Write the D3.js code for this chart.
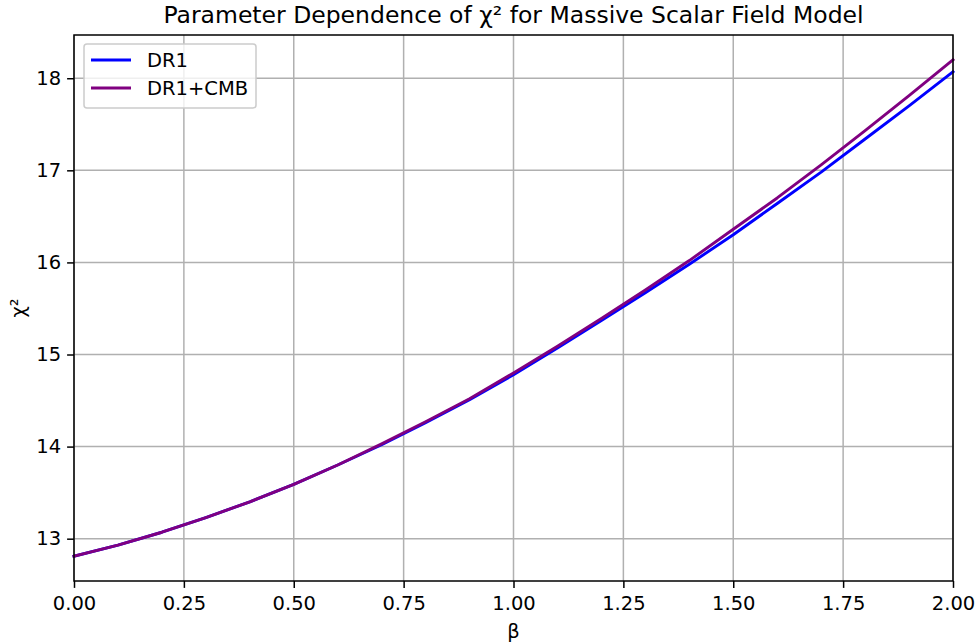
<!DOCTYPE html>
<html>
<head>
<meta charset="utf-8">
<script src="https://cdn.jsdelivr.net/npm/d3@7"></script>
<style>
  html, body { margin: 0; padding: 0; background: #fff; }
  svg { display: block; font-family: "DejaVu Sans", sans-serif; }
</style>
</head>
<body>
<svg id="chart" width="977" height="643"></svg>
<script>
// β grid and χ² values for the two data combinations
const beta = [0.0, 0.1, 0.2, 0.3, 0.4, 0.5, 0.6, 0.7, 0.8, 0.9, 1.0,
              1.1, 1.2, 1.3, 1.4, 1.5, 1.6, 1.7, 1.8, 1.9, 2.0];
const chi2DR1 = [12.81, 12.93, 13.07, 13.23, 13.40, 13.59, 13.80, 14.02, 14.26, 14.51, 14.78,
                 15.07, 15.37, 15.67, 15.98, 16.30, 16.64, 16.98, 17.34, 17.70, 18.07];
const chi2DR1CMB = [12.81, 12.93, 13.07, 13.23, 13.40, 13.59, 13.80, 14.03, 14.27, 14.52, 14.80,
                    15.09, 15.39, 15.70, 16.02, 16.36, 16.70, 17.06, 17.43, 17.81, 18.20];
const seriesNames = ["DR1", "DR1+CMB"];
const xTicks = [0, 0.25, 0.5, 0.75, 1.0, 1.25, 1.5, 1.75, 2.0];
const yTicks = [13, 14, 15, 16, 17, 18];

const svg = d3.select("#chart");
const margin = { left: 74, right: 24, top: 35, bottom: 62 };
const W = 977, H = 643;
const pw = W - margin.left - margin.right;
const ph = H - margin.top - margin.bottom;
const fontTick = "19.5px";

const series = [
  { name: seriesNames[0], values: chi2DR1, color: "#0000ff" },
  { name: seriesNames[1], values: chi2DR1CMB, color: "#800080" }
];

// y range padded by 5% of the data span on each side
const allY = chi2DR1.concat(chi2DR1CMB);
const yMin = d3.min(allY), yMax = d3.max(allY);
const pad = (yMax - yMin) * 0.05;

const x = d3.scaleLinear().domain([0, 2]).range([0, pw]);
const y = d3.scaleLinear().domain([yMin - pad, yMax + pad]).range([ph, 0]);

const g = svg.append("g").attr("transform", `translate(${margin.left},${margin.top})`);

// grid
g.append("g").selectAll("line").data(xTicks).join("line")
  .attr("x1", d => x(d)).attr("x2", d => x(d))
  .attr("y1", 0).attr("y2", ph)
  .attr("stroke", "#b0b0b0").attr("stroke-width", 1.5);
g.append("g").selectAll("line").data(yTicks).join("line")
  .attr("x1", 0).attr("x2", pw)
  .attr("y1", d => y(d)).attr("y2", d => y(d))
  .attr("stroke", "#b0b0b0").attr("stroke-width", 1.5);

// curves
const line = d3.line().x((d, i) => x(beta[i])).y(d => y(d));
series.forEach(s => {
  g.append("path").datum(s.values)
    .attr("d", line)
    .attr("fill", "none")
    .attr("stroke", s.color)
    .attr("stroke-width", 2.9)
    .attr("stroke-linejoin", "round")
    .attr("stroke-linecap", "square");
});

// axes
const xAxis = d3.axisBottom(x).tickValues(xTicks).tickFormat(d3.format(".2f"))
  .tickSize(6.9).tickPadding(8).tickSizeOuter(0);
const yAxis = d3.axisLeft(y).tickValues(yTicks).tickFormat(d3.format("d"))
  .tickSize(6.9).tickPadding(6).tickSizeOuter(0);

const gx = g.append("g").attr("transform", `translate(0,${ph})`).call(xAxis);
const gy = g.append("g").call(yAxis);
[gx, gy].forEach(a => {
  a.select(".domain").remove();
  a.selectAll(".tick line").attr("stroke", "#000").attr("stroke-width", 1.5);
  a.selectAll(".tick text").attr("fill", "#000")
    .style("font-size", fontTick).style("font-family", "DejaVu Sans, sans-serif");
});

// frame
g.append("rect").attr("x", 0).attr("y", 0).attr("width", pw).attr("height", ph)
  .attr("fill", "none").attr("stroke", "#000").attr("stroke-width", 1.5);

// title and axis labels
svg.append("text").attr("x", margin.left + pw / 2).attr("y", 23)
  .attr("text-anchor", "middle").style("font-size", "23.5px")
  .text("Parameter Dependence of χ² for Massive Scalar Field Model");
svg.append("text").attr("x", margin.left + pw / 2).attr("y", 638)
  .attr("text-anchor", "middle").style("font-size", fontTick).text("β");
svg.append("text")
  .attr("transform", `translate(25,${margin.top + ph / 2}) rotate(-90)`)
  .attr("text-anchor", "middle").style("font-size", fontTick).text("χ²");

// legend
const lg = g.append("g").attr("transform", "translate(10,9)");
lg.append("rect").attr("width", 172).attr("height", 64).attr("rx", 3)
  .attr("fill", "#fff").attr("fill-opacity", 0.8)
  .attr("stroke", "#cccccc").attr("stroke-width", 1.5);
series.forEach((s, i) => {
  const yy = 16 + i * 28;
  lg.append("line").attr("x1", 7).attr("x2", 47).attr("y1", yy).attr("y2", yy)
    .attr("stroke", s.color).attr("stroke-width", 2.9);
  lg.append("text").attr("x", 63).attr("y", yy + 7)
    .style("font-size", fontTick).text(s.name);
});
</script>
</body>
</html>
